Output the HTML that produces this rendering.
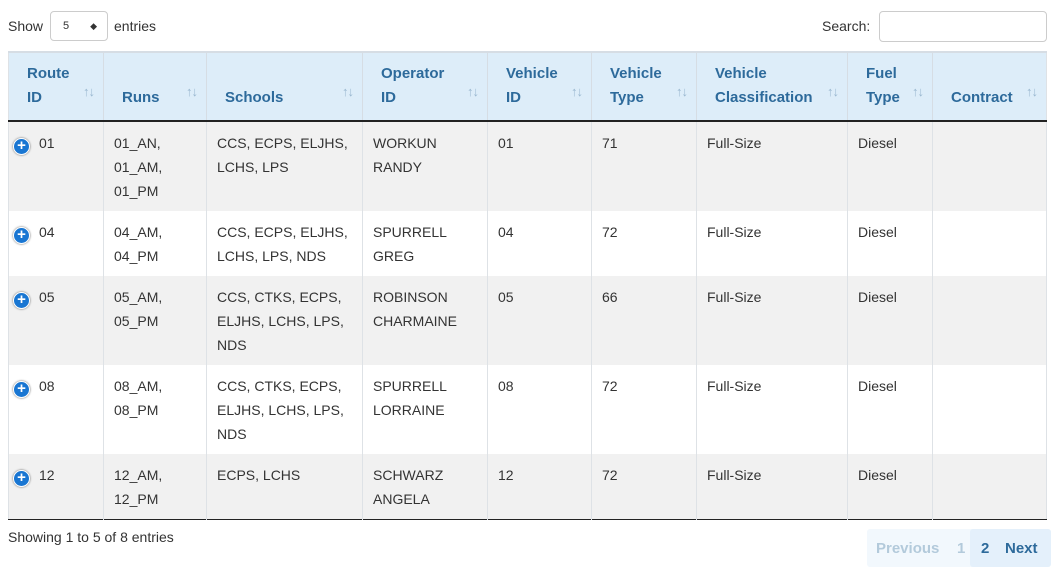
<!DOCTYPE html>
<html><head><style>
body{margin:0;width:1057px;height:574px;background:#fff;font-family:"Liberation Sans",sans-serif;font-size:14px;color:#333;position:relative;overflow:hidden}
.abs{position:absolute}
table{position:absolute;left:8px;top:51px;border-collapse:collapse;table-layout:fixed;width:1038px}
th{background:#ddedf9;color:#2d6a9b;font-weight:bold;font-size:15px;text-align:left;vertical-align:bottom;padding:0 18px 10px 18px;line-height:24px;border-right:1px solid #d6dde4;border-bottom:2px solid #222;position:relative}
th .s{position:absolute;right:9px;bottom:16px;color:#9ab8d0;font-size:13px;font-weight:normal;letter-spacing:-1px}
td{vertical-align:top;padding:9px 10px 0 10px;line-height:24px;border-right:1px solid #dee2e6}
tr.o td{background:#f1f1f1}
tr td:last-child,tr th:last-child{border-right:none}
table{border-left:1px solid #dee2e6;border-right:1px solid #dee2e6;border-top:2px solid #d6dde4;border-bottom:1px solid #222}
.pl{display:inline-block;width:15px;height:15px;border-radius:50%;background:#1976d2;color:#fff;border:1px solid #fff;box-shadow:0 0 2px #666;text-align:center;line-height:14px;font-weight:bold;font-size:15px;vertical-align:-2px;margin-right:9px;margin-left:-6px}
</style></head><body>
<div class="abs" style="left:8px;top:18px">Show</div>
<div class="abs" style="left:50px;top:11px;width:58px;height:30px;border:1px solid #ccc;border-radius:4px;box-sizing:border-box;font-size:11px;line-height:28px;padding-left:12px">5<span style="position:absolute;right:10px;top:0;font-size:9px">&#9670;</span></div>
<div class="abs" style="left:114px;top:18px">entries</div>
<div class="abs" style="left:822px;top:18px">Search:</div>
<div class="abs" style="left:879px;top:11px;width:168px;height:31px;border:1px solid #ccc;border-radius:4px;box-sizing:border-box"></div>
<table>
<colgroup><col style="width:95px"><col style="width:103px"><col style="width:156px"><col style="width:125px"><col style="width:104px"><col style="width:105px"><col style="width:151px"><col style="width:85px"><col style="width:114px"></colgroup>
<tr style="height:69px"><th>Route<br>ID<span class="s">↑↓</span></th><th>Runs<span class="s">↑↓</span></th><th>Schools<span class="s">↑↓</span></th><th>Operator<br>ID<span class="s">↑↓</span></th><th>Vehicle<br>ID<span class="s">↑↓</span></th><th>Vehicle<br>Type<span class="s">↑↓</span></th><th>Vehicle<br>Classification<span class="s">↑↓</span></th><th>Fuel<br>Type<span class="s">↑↓</span></th><th>Contract<span class="s">↑↓</span></th></tr>
<tr class="o" style="height:90px"><td><span class="pl">+</span>01</td><td>01_AN,<br>01_AM,<br>01_PM</td><td>CCS, ECPS, ELJHS,<br>LCHS, LPS</td><td>WORKUN<br>RANDY</td><td>01</td><td>71</td><td>Full-Size</td><td>Diesel</td><td></td></tr>
<tr style="height:65px"><td><span class="pl">+</span>04</td><td>04_AM,<br>04_PM</td><td>CCS, ECPS, ELJHS,<br>LCHS, LPS, NDS</td><td>SPURRELL<br>GREG</td><td>04</td><td>72</td><td>Full-Size</td><td>Diesel</td><td></td></tr>
<tr class="o" style="height:89px"><td><span class="pl">+</span>05</td><td>05_AM,<br>05_PM</td><td>CCS, CTKS, ECPS,<br>ELJHS, LCHS, LPS,<br>NDS</td><td>ROBINSON<br>CHARMAINE</td><td>05</td><td>66</td><td>Full-Size</td><td>Diesel</td><td></td></tr>
<tr style="height:89px"><td><span class="pl">+</span>08</td><td>08_AM,<br>08_PM</td><td>CCS, CTKS, ECPS,<br>ELJHS, LCHS, LPS,<br>NDS</td><td>SPURRELL<br>LORRAINE</td><td>08</td><td>72</td><td>Full-Size</td><td>Diesel</td><td></td></tr>
<tr class="o" style="height:65px"><td><span class="pl">+</span>12</td><td>12_AM,<br>12_PM</td><td>ECPS, LCHS</td><td>SCHWARZ<br>ANGELA</td><td>12</td><td>72</td><td>Full-Size</td><td>Diesel</td><td></td></tr>
</table>
<div class="abs" style="left:8px;top:529px">Showing 1 to 5 of 8 entries</div>
<div class="abs" style="left:867px;top:529px;width:184px;height:38px;background:#f2f8fd;border-radius:3px"></div>
<div class="abs" style="left:970px;top:529px;width:81px;height:38px;background:#e4f0fb;border-radius:3px"></div>
<div class="abs" style="left:876px;top:540px;font-weight:bold;font-size:15px;color:#b3cadb">Previous</div>
<div class="abs" style="left:957px;top:540px;font-weight:bold;font-size:15px;color:#b3cadb">1</div>
<div class="abs" style="left:981px;top:540px;font-weight:bold;font-size:15px;color:#2d6a9b">2</div>
<div class="abs" style="left:1005px;top:540px;font-weight:bold;font-size:15px;color:#2d6a9b">Next</div>
</body></html>
